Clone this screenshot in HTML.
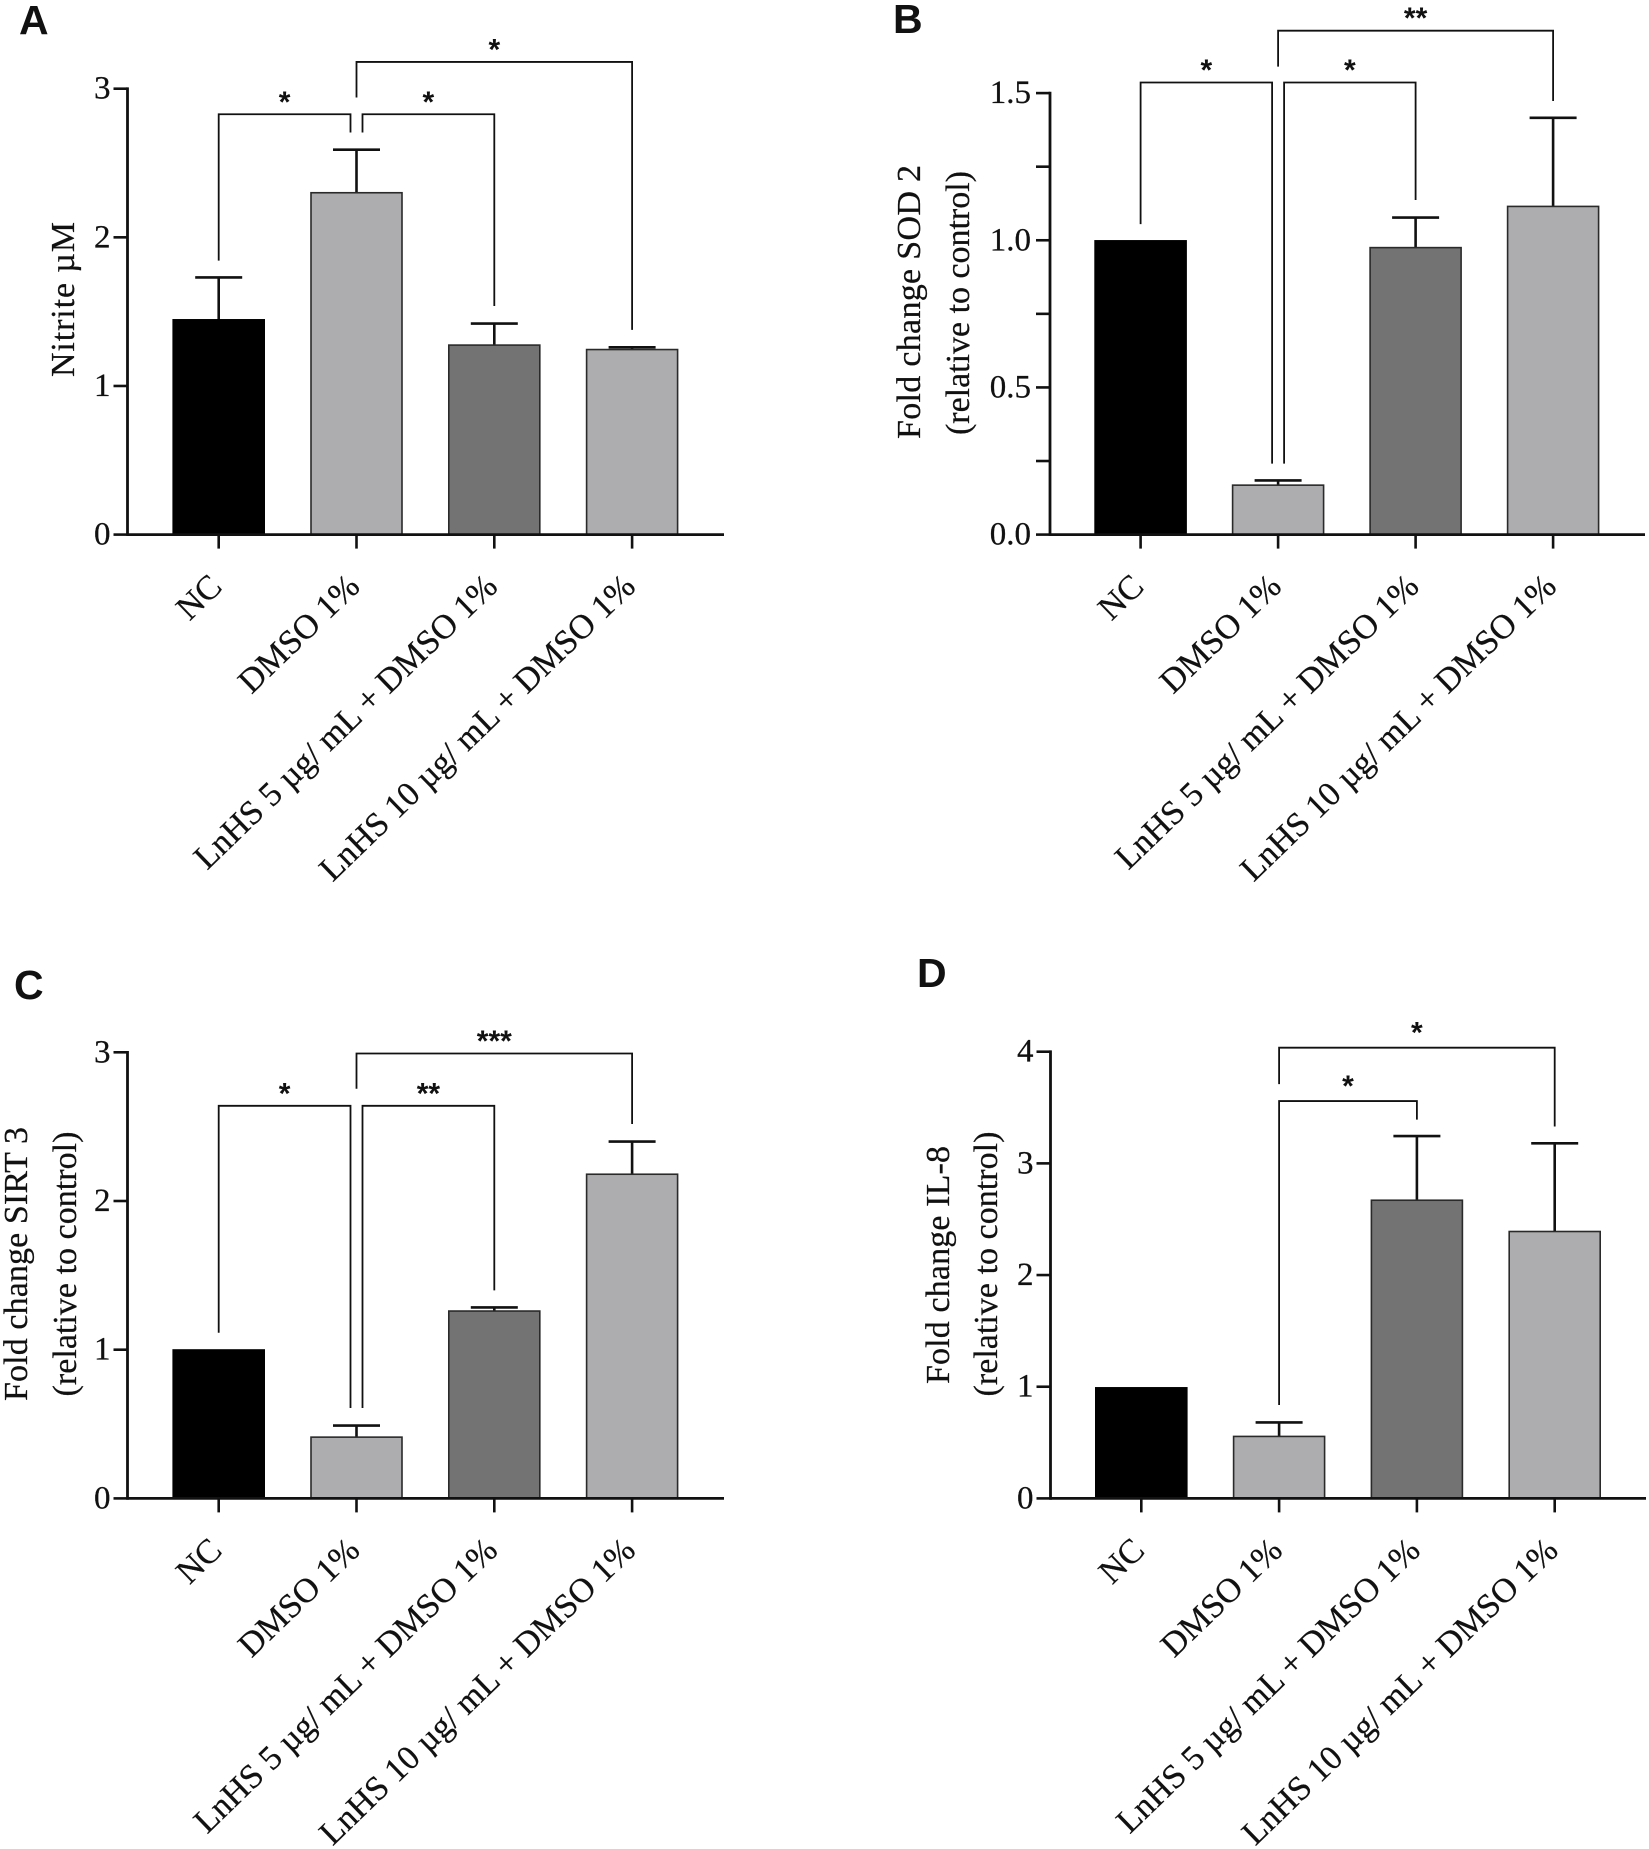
<!DOCTYPE html>
<html lang="en">
<head>
<meta charset="utf-8">
<title>Four-panel bar charts</title>
<style>
  html, body { margin: 0; padding: 0; background: #fff; }
  #figure { display: block; width: 1649px; height: 1849px; }
  .serif { font-family: "Liberation Serif", serif; fill: #111; stroke: #111; stroke-width: 0.25; }
  .letter { font-family: "Liberation Sans", sans-serif; font-weight: bold; font-size: 41px; fill: #111; }
  .star { font-family: "Liberation Sans", sans-serif; font-weight: bold; font-size: 30px; fill: #111; text-anchor: middle; }
</style>
</head>
<body>
<svg id="figure" xmlns="http://www.w3.org/2000/svg" width="1649" height="1849" viewBox="0 0 1649 1849">
  <rect x="0" y="0" width="1649" height="1849" fill="#ffffff"></rect>
</svg>
<script>
// ---- data ----
const categories = ["NC", "DMSO 1%", "LnHS 5 µg/ mL + DMSO 1%", "LnHS 10 µg/ mL + DMSO 1%"];
const barFills = ["#000000", "#adadaf", "#737373", "#adadaf"];

const nitriteValues = [1.445, 2.30, 1.275, 1.245];
const nitriteErrorTops = [1.73, 2.59, 1.42, 1.26];
const nitriteTicks = [0, 1, 2, 3];
const nitriteTickLabels = ["0", "1", "2", "3"];

const sodValues = [0.998, 0.168, 0.975, 1.115];
const sodErrorTops = [0.998, 0.184, 1.077, 1.416];
const sodTicks = [0, 0.5, 1.0, 1.5];
const sodTickLabels = ["0.0", "0.5", "1.0", "1.5"];
const sodMinorTicks = [0.25, 0.75, 1.25];

const sirtValues = [0.998, 0.412, 1.26, 2.18];
const sirtErrorTops = [0.998, 0.49, 1.284, 2.40];
const sirtTicks = [0, 1, 2, 3];
const sirtTickLabels = ["0", "1", "2", "3"];

const ilValues = [0.99, 0.555, 2.67, 2.39];
const ilErrorTops = [0.99, 0.68, 3.245, 3.18];
const ilTicks = [0, 1, 2, 3, 4];
const ilTickLabels = ["0", "1", "2", "3", "4"];

// significance brackets, in category indices and axis units
// [from category, to category, bracket level, from-leg end, to-leg end, stars, from-side nudge, to-side nudge]
const nitriteBrackets = [
  [0, 1, 2.828, 1.843, 2.705, "*", 0, -1],
  [1, 2, 2.828, 2.705, 1.538, "*", 1, 0],
  [1, 3, 3.18, 2.941, 1.377, "*", 0, 0]
];
const sodBrackets = [
  [0, 1, 1.536, 1.055, 0.241, "*", 0, -1],
  [1, 2, 1.536, 0.241, 1.137, "*", 1, 0],
  [1, 3, 1.712, 1.59, 1.473, "**", 0, 0]
];
const sirtBrackets = [
  [0, 1, 2.64, 1.114, 0.608, "*", 0, -1],
  [1, 2, 2.64, 0.608, 1.399, "**", 1, 0],
  [1, 3, 2.992, 2.755, 2.518, "***", 0, 0]
];
const ilBrackets = [
  [1, 2, 3.558, 0.836, 3.392, "*", 0, 0],
  [1, 3, 4.036, 3.71, 3.33, "*", 0, 0]
];

// ---- drawing ----
const svg = document.getElementById('figure');
const NS = 'http://www.w3.org/2000/svg';
const BAR_WIDTH = 91;
const CAP_WIDTH = 47;
const BRACKET_NUDGE = 6;

function make(tag, parent, attrs) {
  const el = document.createElementNS(NS, tag);
  for (const k in attrs) el.setAttribute(k, attrs[k]);
  parent.appendChild(el);
  return el;
}

function drawPanel(p) {
  const g = make('g', svg, {});
  
  

  const yOf = v => p.base - (v / p.ymax) * (p.base - p.top);
  const xOf = i => p.x0 + i * p.step;

  // panel letter
  const letter = make('text', g, { x: p.letterX, y: p.letterY, class: 'letter' });
  letter.textContent = p.id;
  
  

  // error bars
  p.values.forEach((v, i) => {
    const top = p.errors[i];
    if (top <= v) return;
    const d = 'M' + xOf(i) + ' ' + yOf(v) + 'V' + yOf(top) + 'M' + (xOf(i) - CAP_WIDTH / 2) + ' ' + yOf(top) + 'H' + (xOf(i) + CAP_WIDTH / 2);
    const err = make('path', g, { d: d, fill: 'none', stroke: '#111', 'stroke-width': 2.6 });
    
    
  });

  // bars
  p.values.forEach((v, i) => {
    const bar = make('rect', g, {
      x: xOf(i) - BAR_WIDTH / 2,
      y: yOf(v),
      width: BAR_WIDTH,
      height: p.base - yOf(v),
      fill: barFills[i],
      stroke: i === 0 ? '#000' : '#2a2a2a',
      'stroke-width': 1.6
    });
    
    
  });

  // axes
  const yAxis = make('path', g, { d: 'M' + p.axisX + ' ' + (p.top - 1.3) + 'V' + (p.base + 1.3), stroke: '#111', 'stroke-width': 2.8, fill: 'none' });
  
  
  const xAxis = make('path', g, { d: 'M' + p.axisX + ' ' + p.base + 'H' + p.axisEnd, stroke: '#111', 'stroke-width': 2.8, fill: 'none' });
  
  

  // y ticks and labels
  p.ticks.forEach((t, i) => {
    const tick = make('path', g, { d: 'M' + (p.axisX - 14) + ' ' + yOf(t) + 'H' + p.axisX, stroke: '#111', 'stroke-width': 2.6, fill: 'none' });
    
    
    const lab = make('text', g, { x: p.axisX - p.labelGap, y: yOf(t) + 10, class: 'serif', 'font-size': 33, 'text-anchor': 'end' });
    lab.textContent = p.tickLabels[i];
    
    
  });
  (p.minor || []).forEach((t, i) => {
    const tick = make('path', g, { d: 'M' + (p.axisX - 14) + ' ' + yOf(t) + 'H' + p.axisX, stroke: '#111', 'stroke-width': 2.6, fill: 'none' });
    
    
  });

  // x ticks and labels
  categories.forEach((c, i) => {
    const tick = make('path', g, { d: 'M' + xOf(i) + ' ' + p.base + 'v14', stroke: '#111', 'stroke-width': 2.6, fill: 'none' });
    
    
    const lx = xOf(i) + 5;
    const ly = p.base + 54;
    const lab = make('text', g, { x: lx, y: ly, class: 'serif', 'font-size': 34.2, 'text-anchor': 'end', transform: 'rotate(-44 ' + lx + ' ' + ly + ')' });
    lab.textContent = c;
    
    
  });

  // y axis titles
  p.titles.forEach((t, i) => {
    const lab = make('text', g, {
      x: t.bx,
      y: t.cy,
      class: 'serif',
      'font-size': 34,
      'text-anchor': 'middle',
      textLength: t.len,
      lengthAdjust: 'spacing',
      transform: 'rotate(-90 ' + t.bx + ' ' + t.cy + ')'
    });
    lab.textContent = t.text;
    
    
  });

  // significance brackets
  p.brackets.forEach((b, i) => {
    const x1 = xOf(b[0]) + b[6] * BRACKET_NUDGE;
    const x2 = xOf(b[1]) + b[7] * BRACKET_NUDGE;
    const d = 'M' + x1 + ' ' + yOf(b[3]) + 'V' + yOf(b[2]) + 'H' + x2 + 'V' + yOf(b[4]);
    const br = make('path', g, { d: d, fill: 'none', stroke: '#111', 'stroke-width': 1.8 });
    
    
    const star = make('text', g, { x: (x1 + x2) / 2, y: yOf(b[2]) - p.starLift, class: 'star' });
    star.textContent = b[5];
    
    
  });
}

drawPanel({
  id: 'A', letterX: 19, letterY: 34, labelGap: 17, starLift: 2.5,
  axisX: 127.5, axisEnd: 724, base: 534.6, top: 88.7, ymax: 3, x0: 218.7, step: 137.8,
  values: nitriteValues, errors: nitriteErrorTops, ticks: nitriteTicks, tickLabels: nitriteTickLabels,
  brackets: nitriteBrackets,
  titles: [{ text: 'Nitrite µM', bx: 74, cy: 299.5, len: 155 }]
});
drawPanel({
  id: 'B', letterX: 893, letterY: 33, labelGap: 19, starLift: 2.5,
  axisX: 1050, axisEnd: 1645, base: 534.6, top: 93.1, ymax: 1.5, x0: 1140.6, step: 137.5,
  values: sodValues, errors: sodErrorTops, ticks: sodTicks, tickLabels: sodTickLabels, minor: sodMinorTicks,
  brackets: sodBrackets,
  titles: [
    { text: 'Fold change SOD 2', bx: 920, cy: 302, len: 274 },
    { text: '(relative to control)', bx: 969, cy: 303, len: 264 }
  ]
});
drawPanel({
  id: 'C', letterX: 14, letterY: 999, labelGap: 17, starLift: 2.5,
  axisX: 127.5, axisEnd: 724, base: 1498.4, top: 1052.3, ymax: 3, x0: 218.7, step: 137.8,
  values: sirtValues, errors: sirtErrorTops, ticks: sirtTicks, tickLabels: sirtTickLabels,
  brackets: sirtBrackets,
  titles: [
    { text: 'Fold change SIRT 3', bx: 27, cy: 1264, len: 274 },
    { text: '(relative to control)', bx: 76, cy: 1264, len: 265 }
  ]
});
drawPanel({
  id: 'D', letterX: 917, letterY: 987, labelGap: 17, starLift: 5,
  axisX: 1050.5, axisEnd: 1646, base: 1498.4, top: 1051.7, ymax: 4, x0: 1141.3, step: 137.8,
  values: ilValues, errors: ilErrorTops, ticks: ilTicks, tickLabels: ilTickLabels,
  brackets: ilBrackets,
  titles: [
    { text: 'Fold change IL-8', bx: 949, cy: 1265, len: 238 },
    { text: '(relative to control)', bx: 997, cy: 1264, len: 265 }
  ]
});
</script>
</body>
</html>
